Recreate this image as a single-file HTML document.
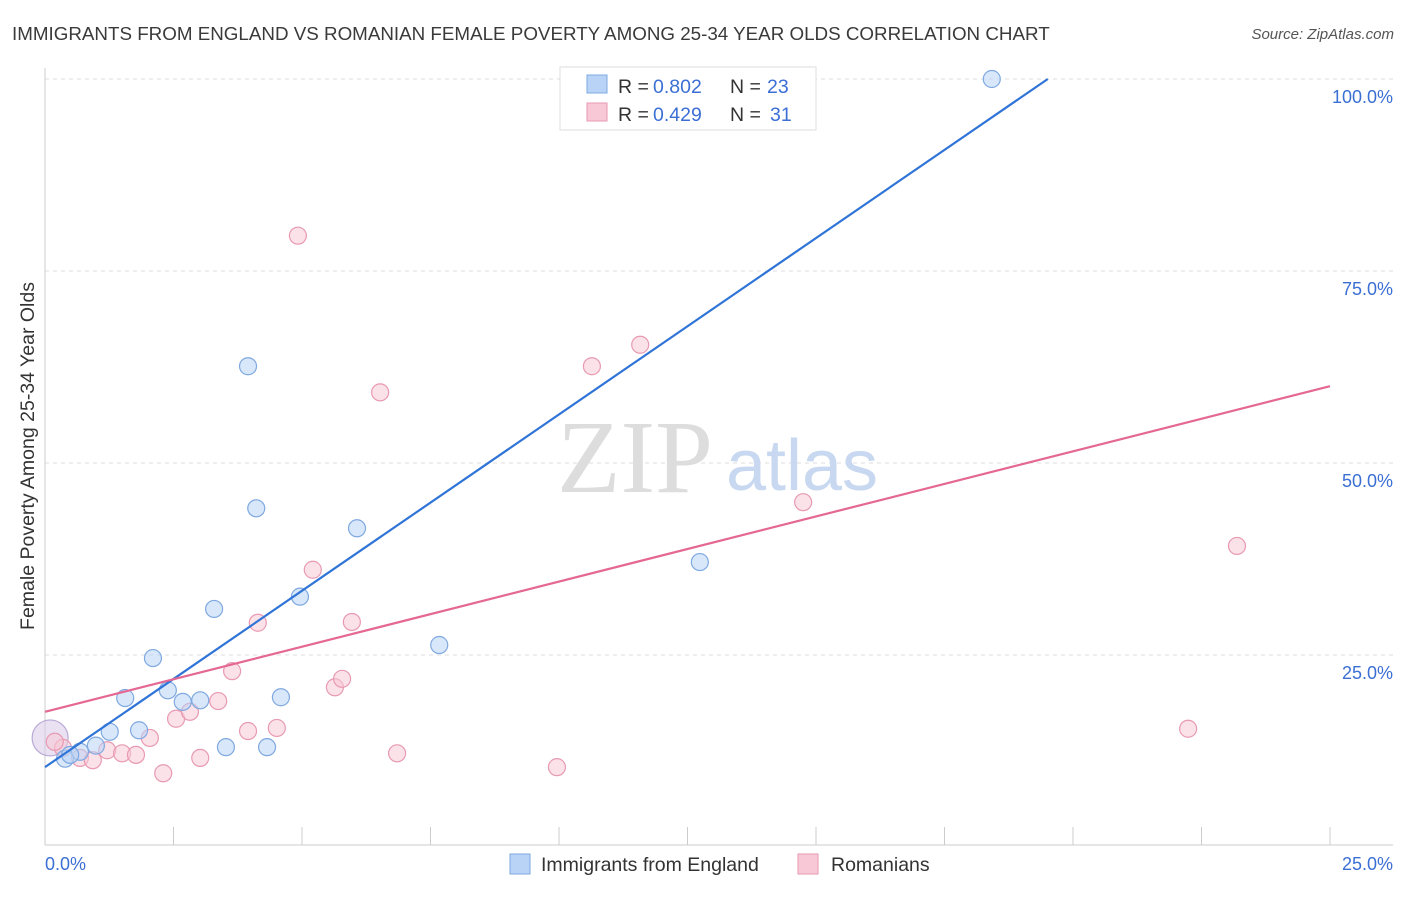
<!DOCTYPE html>
<html><head><meta charset="utf-8"><style>
body{margin:0;background:#fff;font-family:"Liberation Sans",sans-serif}
</style></head><body>
<svg width="1406" height="892" xmlns="http://www.w3.org/2000/svg" id="chart">
<text x="12" y="40" font-size="18.8" fill="#3a3a3a">IMMIGRANTS FROM ENGLAND VS ROMANIAN FEMALE POVERTY AMONG 25-34 YEAR OLDS CORRELATION CHART</text>
<text x="1394" y="39" font-size="15" fill="#555" text-anchor="end" font-style="italic">Source: ZipAtlas.com</text>
<text x="34" y="456" font-size="19.5" fill="#333" text-anchor="middle" transform="rotate(-90 34 456)">Female Poverty Among 25-34 Year Olds</text>
<g id="grid"></g>
<text x="635" y="492" font-size="104" fill="#ddd" font-family="Liberation Serif" text-anchor="middle">ZIP</text>
<text x="802" y="490" font-size="72" fill="#c8d8f0" text-anchor="middle">atlas</text>
<g id="marks"></g>
<g>
<rect x="560" y="67" width="256" height="63" fill="#fff" stroke="#ddd"/>
<rect x="587" y="75" width="20" height="18" fill="#b8d3f5" stroke="#7fa9e0"/>
<rect x="587" y="103" width="20" height="18" fill="#f8c8d6" stroke="#e89ab2"/>
<text y="93" font-size="19.5" fill="#333"><tspan x="618">R =</tspan><tspan x="653" fill="#3b6fd4">0.802</tspan><tspan x="730">N =</tspan><tspan x="767" fill="#3b6fd4">23</tspan></text>
<text y="121" font-size="19.5" fill="#333"><tspan x="618">R =</tspan><tspan x="653" fill="#3b6fd4">0.429</tspan><tspan x="730">N =</tspan><tspan x="770" fill="#3b6fd4">31</tspan></text>
</g>
<g>
<rect x="510" y="854" width="20" height="20" fill="#b8d3f5" stroke="#7fa9e0"/>
<text x="541" y="871" font-size="19.5" fill="#333">Immigrants from England</text>
<rect x="798" y="854" width="20" height="20" fill="#f8c8d6" stroke="#e89ab2"/>
<text x="831" y="871" font-size="19.5" fill="#333">Romanians</text>
</g>
<text x="45" y="870" font-size="18" fill="#3b6fd4">0.0%</text>
<text x="1393" y="870" font-size="18" fill="#3b6fd4" text-anchor="end">25.0%</text>
</svg>
<script>
const blueX=[0.39,0.68,0.99,1.26,1.56,1.83,2.10,2.39,2.68,3.02,3.29,3.52,3.95,4.11,4.32,4.59,4.96,6.07,7.67,12.74,18.42,0.49];
const blueY=[11.5,12.4,13.2,15.0,19.4,15.2,24.6,20.4,18.9,19.1,31.0,13.0,62.6,44.1,13.0,19.5,32.6,41.5,26.3,37.1,100,12.0];
const pinkX=[0.35,0.68,0.93,1.21,1.50,1.77,2.04,2.30,2.55,2.82,3.02,3.37,3.64,3.95,4.14,4.51,4.92,5.21,5.64,5.78,5.97,6.52,6.85,9.96,10.64,11.58,14.75,22.24,23.19,0.19];
const pinkY=[12.9,11.6,11.3,12.6,12.2,12.0,14.2,9.6,16.7,17.6,11.6,19.0,22.9,15.1,29.2,15.5,79.6,36.1,20.8,21.9,29.3,59.2,12.2,10.4,62.6,65.4,44.9,15.4,39.2,13.7];
const bigX=[0.1], bigY=[14.2];
const blueLine=[[0,10.4],[19.51,100]];
const pinkLine=[[0,17.6],[25,60.0]];
const yTicks=[25,50,75,100];
const yTickLabels=["25.0%","50.0%","75.0%","100.0%"];
const xTicks=[0,2.5,5,7.5,10,12.5,15,17.5,20,22.5,25];
const sx=v=>45+v*(1285/25), sy=v=>847-v*7.68;
const NS="http://www.w3.org/2000/svg";
function mk(t,a,p){const e=document.createElementNS(NS,t);for(const k in a)e.setAttribute(k,a[k]);p.appendChild(e);return e;}
const g=document.getElementById('grid'), m=document.getElementById('marks');
yTicks.forEach((t,i)=>{
 const l=mk('line',{x1:45,x2:1393,y1:sy(t),y2:sy(t),stroke:'#ddd','stroke-dasharray':'4,4'},g);
 
 
 const tx=mk('text',{x:1393,y:sy(t)+24,'font-size':18,fill:'#3b6fd4','text-anchor':'end'},g);
 tx.textContent=yTickLabels[i];
 
 
});
const ax=mk('line',{x1:45,x2:1393,y1:845,y2:845,stroke:'#ccc'},g);


const ay=mk('line',{x1:45,x2:45,y1:68,y2:845,stroke:'#ccc'},g);


xTicks.forEach(t=>{
 const l=mk('line',{x1:sx(t),x2:sx(t),y1:827,y2:845,stroke:'#ccc'},g);
 
 
});
function pts(X,Y,fill,stroke,name,r){X.forEach((x,i)=>{
 const c=mk('circle',{cx:sx(x),cy:sy(Y[i]),r:r,fill:fill,stroke:stroke,'stroke-width':1.2,'fill-opacity':0.55},m);
 
 
});}
pts(bigX,bigY,'#d8c8e8','#b9a9d4','big-point',18);
pts(pinkX,pinkY,'#f8c8d6','#e89ab2','romanian-point',8.5);
pts(blueX,blueY,'#b8d3f5','#7fa9e0','england-point',8.5);
const bl=mk('line',{x1:sx(blueLine[0][0]),y1:sy(blueLine[0][1]),x2:sx(blueLine[1][0]),y2:sy(blueLine[1][1]),stroke:'#2f74d6','stroke-width':2.2},m);


const pl=mk('line',{x1:sx(pinkLine[0][0]),y1:sy(pinkLine[0][1]),x2:sx(pinkLine[1][0]),y2:sy(pinkLine[1][1]),stroke:'#e46892','stroke-width':2.2},m);


</script>
</body></html>
